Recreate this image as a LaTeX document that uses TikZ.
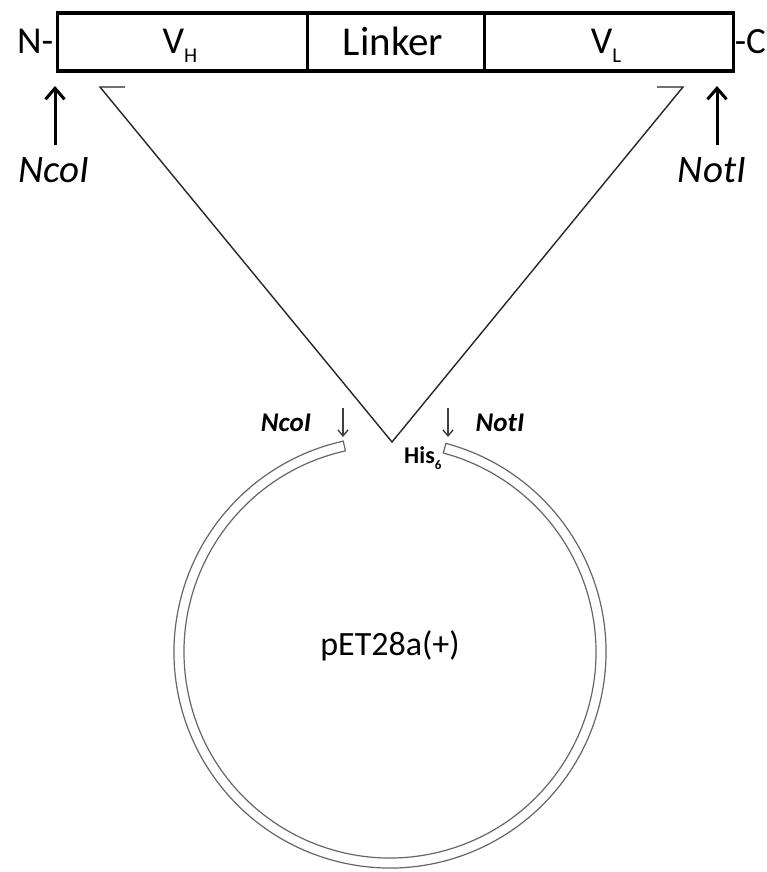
\documentclass[tikz,border=0pt]{standalone}
\usepackage{fontspec}
\setmainfont{Carlito}
\usetikzlibrary{arrows.meta,calc}
\tikzset{
  seg/.style={draw=black, line width=3.6pt, rectangle, inner sep=0pt, anchor=north west, minimum height=57.5pt},
  barlab/.style={inner sep=0pt, anchor=base, font=\fontsize{38}{38}\selectfont},
  biglab/.style={inner sep=0pt, anchor=base, font=\fontsize{39}{39}\selectfont\itshape},
  smalllab/.style={inner sep=0pt, anchor=base, font=\fontsize{27}{27}\selectfont\bfseries\itshape},
  bigarr/.style={line width=3pt, -{Straight Barb[length=11pt,width=19pt,line width=3pt]}},
  smallarr/.style={line width=1.4pt, draw=black!75, -{Straight Barb[length=6pt,width=10pt,line width=1.4pt]}},
  tri/.style={line width=1.4pt, draw=black!85},
  ring/.style={draw=black!60, line width=1.2pt, fill=white},
}
\begin{document}
\begin{tikzpicture}[x=1pt,y=-1pt]
\useasboundingbox (0,0) rectangle (767,872);
% bar
\node[seg, minimum width=250pt] (vh) at (55.5,11.5) {};
\node[seg, minimum width=177pt] (lk) at (305.5,11.5) {};
\node[seg, minimum width=249pt] (vl) at (482.5,11.5) {};
\node[barlab] (vht) at (180,54) {V\raisebox{-9pt}{\fontsize{21}{21}\selectfont H}};
\node[barlab, font=\fontsize{41}{41}\selectfont] (lkt) at (393,56) {Linker};
\node[barlab] (vlt) at (606,54) {V\raisebox{-9pt}{\fontsize{21}{21}\selectfont L}};
\node[barlab, anchor=base east] (nterm) at ([xshift=-2pt]vh.west |- 0,54) {N-};
\node[barlab, anchor=base west, font=\fontsize{37}{37}\selectfont] (cterm) at ([xshift=-0.5pt]vl.east |- 0,54) {-C};
% restriction sites on the insert
\node[biglab] (ncoiT) at (54,182) {NcoI};
\node[biglab] (notiT) at (712,182) {NotI};
\coordinate (ncoiTip) at (55,86);
\coordinate (notiTip) at (717,86);
\coordinate (ncoiTail) at (55,145);
\coordinate (notiTail) at (717,145);
\draw[bigarr] (ncoiTail) -- (ncoiTip);
\draw[bigarr] (notiTail) -- (notiTip);
% insertion triangle
\coordinate (tl0) at (125,87);
\coordinate (tl) at (100,87);
\coordinate (apex) at (392,442);
\coordinate (tr) at (683,87);
\coordinate (tr0) at (657,87);
\draw[tri, line join=miter] (tl0) -- (tl) -- (apex) -- (tr) -- (tr0);
% plasmid ring
\begin{scope}[shift={(390,652)}]
\path[ring] (-75:216) arc[start angle=-75, end angle=257.5, radius=216]
  -- (257.5:206) arc[start angle=257.5, end angle=-75, radius=206] -- cycle;
\node[inner sep=0pt, anchor=base, font=\fontsize{34}{34}\selectfont] (pet) at (0,3) {pET28a(+)};
\end{scope}
% vector sites
\node[smalllab] (ncoiV) at (286,431) {NcoI};
\node[smalllab] (notiV) at (500,431) {NotI};
\coordinate (ncoiVt) at (343,437);
\coordinate (notiVt) at (448,437);
\draw[smallarr] (ncoiVt) ++(0,-29) -- (ncoiVt);
\draw[smallarr] (notiVt) ++(0,-29) -- (notiVt);
\node[inner sep=0pt, anchor=base west, font=\fontsize{24}{24}\selectfont\bfseries] (his) at (404,463) {His\raisebox{-6pt}{\fontsize{13}{13}\selectfont 6}};
\end{tikzpicture}
\end{document}
